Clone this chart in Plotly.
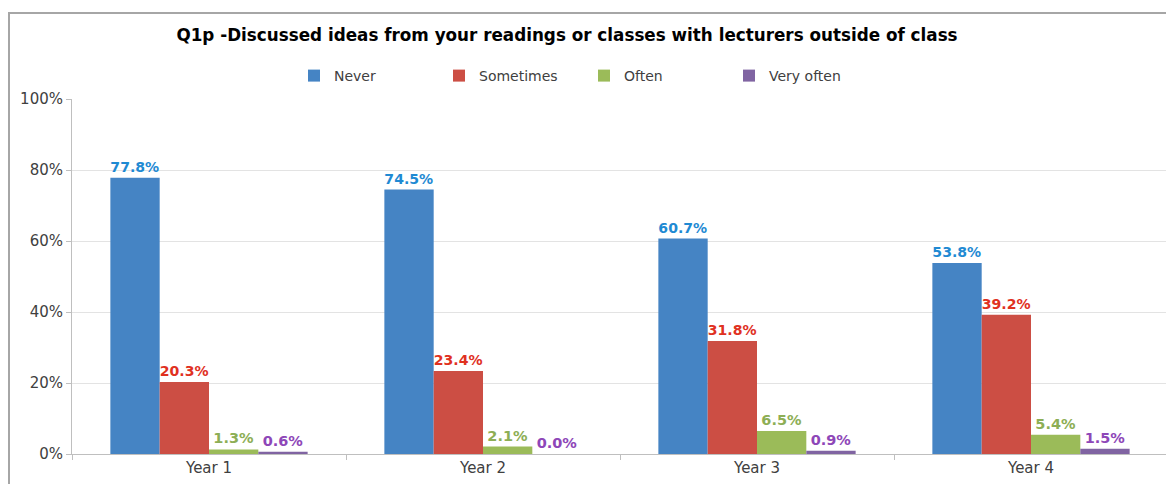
import plotly.graph_objects as go

years = ["Year 1", "Year 2", "Year 3", "Year 4"]
series = ["Never", "Sometimes", "Often", "Very often"]
never = [77.8, 74.5, 60.7, 53.8]
sometimes = [20.3, 23.4, 31.8, 39.2]
often = [1.3, 2.1, 6.5, 5.4]
very_often = [0.6, 0.0, 0.9, 1.5]

values = [never, sometimes, often, very_often]
bar_colors = ["#4584C4", "#CC4E44", "#9BBB59", "#8064A2"]
label_colors = ["#1F8AD3", "#E0311F", "#8DAE55", "#8E47B8"]

font = "DejaVu Sans"

# page body adds an 8px margin, so the figure is a bit smaller than the window
W, H = 1166, 476
L, R, T, B = 64, 6, 91, 30
pw = W - L - R
ph = H - T - B
bottom = H - B

fig = go.Figure()
for name, vals, col, lcol in zip(series, values, bar_colors, label_colors):
    fig.add_trace(go.Bar(
        x=years,
        y=vals,
        name=name,
        marker=dict(color=col, line=dict(width=0)),
        text=[f"{v:.1f}%" for v in vals],
        textposition="outside",
        textfont=dict(family=font, size=14.5, color=lcol, weight="bold"),
        cliponaxis=False,
    ))

fig.update_layout(
    width=W,
    height=H,
    paper_bgcolor="white",
    plot_bgcolor="white",
    margin=dict(l=L, r=R, t=T, b=B, autoexpand=False),
    barmode="group",
    bargap=0.28,
    bargroupgap=0,
    title=dict(
        text="<b>Q1p -Discussed ideas from your readings or classes with lecturers outside of class</b>",
        x=559 / W, xanchor="center", xref="container",
        y=1 - 27 / H, yanchor="middle",
        font=dict(family=font, size=16.8, color="black"),
    ),
    legend=dict(
        orientation="h", x=(576 - L) / pw, xanchor="center",
        y=(bottom - 68) / ph, yanchor="middle",
        font=dict(family=font, size=14, color="#404040"),
        itemwidth=30, entrywidth=100, entrywidthmode="pixels",
        traceorder="normal", bgcolor="rgba(0,0,0,0)",
    ),
    xaxis=dict(
        showline=True, linecolor="#BFBFBF", linewidth=1,
        ticks="outside", tickson="boundaries", ticklen=5, tickcolor="#BFBFBF",
        tickfont=dict(family=font, size=15, color="#404040"),
        showgrid=False,
    ),
    yaxis=dict(
        range=[0, 100], dtick=20, ticksuffix="%",
        showline=True, linecolor="#BFBFBF", linewidth=1,
        ticks="outside", ticklen=5, tickcolor="#BFBFBF",
        gridcolor="#E3E3E3", gridwidth=1,
        tickfont=dict(family=font, size=15, color="#404040"),
        zeroline=False,
    ),
    shapes=[dict(
        type="rect", xref="paper", yref="paper",
        x0=(1 - L) / pw, x1=(W + 10 - L) / pw,
        y0=-0.3, y1=(bottom - 5) / ph,
        line=dict(color="#A6A6A6", width=2), fillcolor="rgba(0,0,0,0)",
        layer="below",
    )],
)

fig.write_html("out.html")
